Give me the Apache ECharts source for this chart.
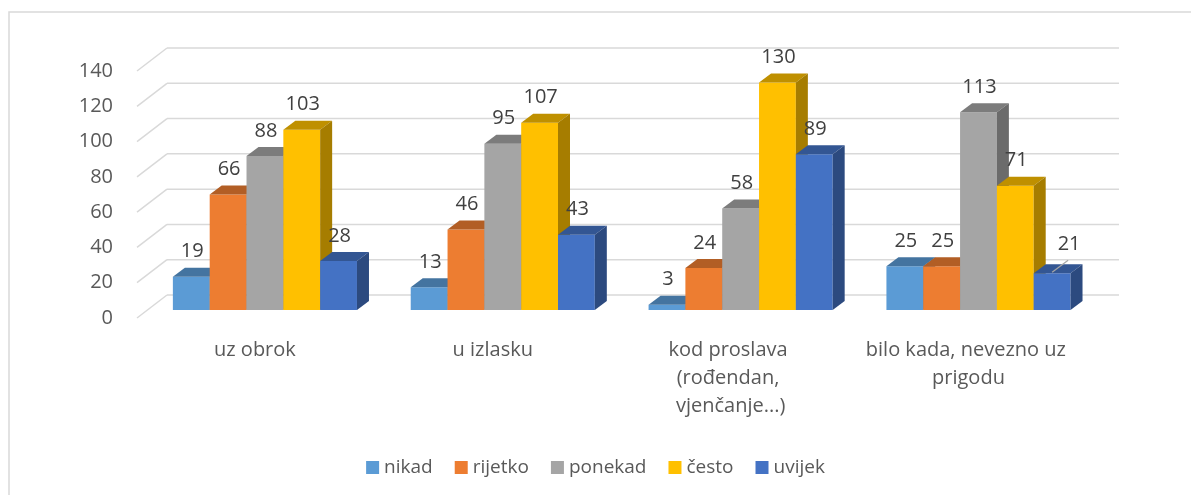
<!DOCTYPE html>
<html>
<head>
<meta charset="utf-8">
<script src="https://cdn.jsdelivr.net/npm/echarts@6/dist/echarts.min.js"></script>
<style>
html,body{margin:0;padding:0;background:#fff;}
#chart{width:1191px;height:495px;}
</style>
</head>
<body>
<div id="chart"></div>
<script>
// ---- data ----
var categories = ['uz obrok', 'u izlasku', 'kod proslava (rođendan, vjenčanje...)', 'bilo kada, nevezno uz prigodu'];
var seriesNames = ['nikad', 'rijetko', 'ponekad', 'često', 'uvijek'];
var nikad   = [19, 13, 3, 25];
var rijetko = [66, 46, 24, 25];
var ponekad = [88, 95, 58, 113];
var cesto   = [103, 107, 130, 71];
var uvijek  = [28, 43, 89, 21];
var yTicks  = [0, 20, 40, 60, 80, 100, 120, 140];

var seriesValues = [nikad, rijetko, ponekad, cesto, uvijek];
var colors = ['#5B9BD5', '#ED7D31', '#A5A5A5', '#FFC000', '#4472C4'];
var FONT = 'Open Sans';

function shade(hex, f) {
  var n = parseInt(hex.slice(1), 16);
  var r = Math.round(((n >> 16) & 255) * f), g = Math.round(((n >> 8) & 255) * f), b = Math.round((n & 255) * f);
  return 'rgb(' + r + ',' + g + ',' + b + ')';
}

var DX = 12, DY = -9;      // bar depth
var WDX = 30, WDY = -23;   // floor depth

function barRender(si) {
  return function (params, api) {
    var cat = api.value(0), v = api.value(1);
    var base = api.coord([cat, 0]);
    var topP = api.coord([cat, v]);
    var band = api.size([1, 0])[0];
    var bw = band * 0.1548;
    var x0 = base[0] - 2.5 * bw + si * bw;
    var yb = base[1], yt = topP[1];
    var c = colors[si];
    var children = [
      { type: 'rect', shape: { x: x0, y: yt, width: bw, height: yb - yt }, style: { fill: c } },
      { type: 'polygon', shape: { points: [[x0, yt], [x0 + bw, yt], [x0 + bw + DX, yt + DY], [x0 + DX, yt + DY]] }, style: { fill: shade(c, 0.75) } },
      { type: 'polygon', shape: { points: [[x0 + bw, yt], [x0 + bw + DX, yt + DY], [x0 + bw + DX, yb + DY], [x0 + bw, yb]] }, style: { fill: shade(c, 0.65) } }
    ];
    var lx = x0 + bw / 2 + 1, ly = yt - 25;
    if (si === 4 && params.dataIndex === 3) {
      children.push({ type: 'line', shape: { x1: x0 + bw / 2, y1: yt - 1, x2: x0 + bw / 2 + 16, y2: yt - 13 }, style: { stroke: '#a6a6a6', lineWidth: 1.2 } });
      lx = x0 + bw / 2 + 17; ly = yt - 29;
    }
    children.push({ type: 'text', style: { x: lx, y: ly, text: String(v), fill: '#404040', font: '20px "' + FONT + '"', align: 'center', verticalAlign: 'middle' } });
    return { type: 'group', children: children };
  };
}

var series = [
  // back wall lines
  { type: 'custom', xAxisIndex: 0, yAxisIndex: 0, silent: true, z: 1,
    data: yTicks.map(function (t) { return [0, t]; }),
    renderItem: function (params, api) {
      var a = api.coord([0, api.value(1)]), b = api.coord([1, api.value(1)]);
      return { type: 'line', shape: { x1: a[0], y1: a[1], x2: b[0], y2: b[1] }, style: { stroke: '#d9d9d9', lineWidth: 1.5 } };
    } },
  // floor/side diagonals
  { type: 'custom', xAxisIndex: 1, yAxisIndex: 1, silent: true, z: 1,
    data: yTicks.map(function (t) { return [0, t]; }),
    renderItem: function (params, api) {
      var a = api.coord([0, api.value(1)]);
      return { type: 'line', shape: { x1: a[0], y1: a[1], x2: a[0] + WDX, y2: a[1] + WDY }, style: { stroke: '#d9d9d9', lineWidth: 1.5 } };
    } }
];
seriesValues.forEach(function (vals, si) {
  series.push({
    type: 'custom', name: seriesNames[si], xAxisIndex: 2, yAxisIndex: 2, z: 2,
    itemStyle: { color: colors[si] },
    data: vals.map(function (v, i) { return [i, v]; }),
    renderItem: barRender(si)
  });
});

var chart = echarts.init(document.getElementById('chart'));
chart.setOption({
  animation: false,
  backgroundColor: '#ffffff',
  textStyle: { fontFamily: FONT },
  graphic: [{ type: 'rect', shape: { x: 9, y: 12, width: 1300, height: 600 }, style: { fill: 'none', stroke: '#d9d9d9', lineWidth: 1.5 }, silent: true }],
  grid: [
    { left: 167, right: 72, top: 48, height: 247 },      // back wall
    { left: 137, right: 102, top: 71, height: 247 },     // front edge (y labels)
    { left: 146, right: 93.6, top: 65, height: 245 },    // bars
    { left: 136, right: 103.6, top: 65, height: 245 }    // category labels
  ],
  xAxis: [
    { gridIndex: 0, type: 'value', min: 0, max: 1, show: false },
    { gridIndex: 1, type: 'value', min: 0, max: 1, show: false },
    { gridIndex: 2, type: 'category', data: categories, show: false },
    { gridIndex: 3, type: 'category', data: categories,
      axisLine: { show: false }, axisTick: { show: false },
      axisLabel: { interval: 0, margin: 26, color: '#595959', fontSize: 20, lineHeight: 28, width: 212, overflow: 'break', fontFamily: FONT } }
  ],
  yAxis: [
    { gridIndex: 0, type: 'value', min: 0, max: 140, interval: 20, show: false },
    { gridIndex: 1, type: 'value', min: 0, max: 140, interval: 20,
      axisLine: { show: false }, axisTick: { show: false }, splitLine: { show: false },
      axisLabel: { margin: 24, color: '#595959', fontSize: 20, fontFamily: FONT } },
    { gridIndex: 2, type: 'value', min: 0, max: 140, interval: 20, show: false },
    { gridIndex: 3, type: 'value', min: 0, max: 140, interval: 20, show: false }
  ],
  legend: {
    data: seriesNames, left: 'center', top: 453, icon: 'rect',
    itemWidth: 13, itemHeight: 13, itemGap: 22,
    textStyle: { color: '#595959', fontSize: 19, fontFamily: FONT }
  },
  series: series
});
</script>
</body>
</html>
